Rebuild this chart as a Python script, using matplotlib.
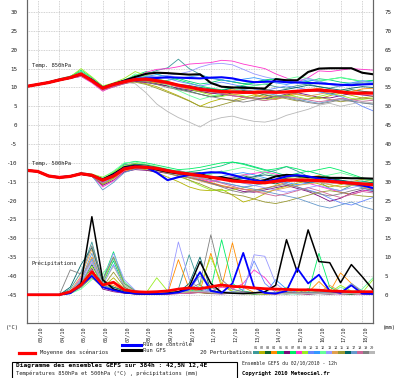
import matplotlib
matplotlib.use('Agg')
import matplotlib.pyplot as plt
from matplotlib.transforms import ScaledTranslation
from matplotlib.patches import Rectangle
from matplotlib.lines import Line2D

plt.rcParams['font.family'] = ['DejaVu Sans Mono']

# ---------------- data ----------------
hours = list(range(0, 385, 12))          # 02/10 12h -> 18/10 12h
day_ticks = list(range(12, 384, 24))     # 00h each day
day_labels = ['03/10', '04/10', '05/10', '06/10', '07/10', '08/10', '09/10', '10/10',
              '11/10', '12/10', '13/10', '14/10', '15/10', '16/10', '17/10', '18/10']
left_ticks = list(range(-45, 31, 5))
right_ticks = list(range(0, 76, 5))

pert_names = ['01', '02', '03', '04', '05', '06', '07', '08', '09', '10',
              '11', '12', '13', '14', '15', '16', '17', '18', '19', '20']
pert_colors = ['#3d9999', '#b3b300', '#0d6630', '#ff8c00', '#00cc77', '#7a0a7a', '#00ee66',
               '#ff33cc', '#99ee22', '#6688ff', '#3399ff', '#66ff99', '#9999ff', '#e0a050',
               '#999933', '#006666', '#6699cc', '#cc6699', '#808080', '#b8b8b8']

# Temperature 850 hPa (°C)
t850_mean = [10.3,10.8,11.3,12.0,12.6,13.6,11.8,9.8,10.8,11.5,12.1,12.2,11.8,11.3,10.6,10.1,9.5,
             9.2,8.9,8.8,8.7,8.7,8.8,8.7,8.8,9.0,9.2,9.3,9.1,8.8,8.5,8.5,8.5]
t850_ctrl = [10.3,10.8,11.3,12.0,12.6,13.5,12.0,9.9,10.8,11.6,12.2,12.4,12.5,12.7,12.6,12.5,12.4,
             12.6,12.7,12.4,11.8,11.4,11.5,11.6,11.4,11.3,11.2,11.1,10.9,10.7,10.6,10.8,10.9]
t850_gfs = [10.3,10.8,11.3,12.0,12.6,13.5,12.0,9.9,10.9,11.8,12.8,13.6,13.9,13.8,13.6,13.4,13.5,
            11.2,10.2,10.0,9.9,9.8,9.7,12.2,11.9,11.9,14.1,15.0,15.1,15.1,15.1,13.9,13.5]
t850_p01 = [10.3,10.9,11.4,12.2,12.8,13.8,12.3,10.2,11.0,11.8,12.3,13.5,14.5,15.2,17.5,15.0,13.5,12.4,12.0,11.5,11.0,10.6,10.9,10.2,9.8,10.5,10.9,10.2,9.8,10.4,10.9,11.2,11.0]
t850_p02 = [10.2,10.7,11.2,11.8,12.5,13.1,11.6,9.5,10.4,11.2,11.6,11.0,10.2,9.0,7.8,6.5,5.0,6.2,7.0,6.5,7.4,8.0,7.2,6.8,7.5,8.2,7.6,7.0,7.8,8.5,7.9,7.2,7.6]
t850_p03 = [10.4,10.8,11.3,12.1,12.7,13.5,12.1,10.0,10.8,11.3,11.8,11.5,11.0,10.4,9.6,9.0,8.2,7.5,7.8,8.6,9.2,8.8,8.0,7.4,7.9,8.8,9.5,9.0,8.3,8.8,9.4,9.0,8.7]
t850_p04 = [10.3,10.8,11.4,12.0,12.5,13.2,11.9,9.8,10.5,11.4,12.0,11.6,11.2,10.8,10.2,9.5,9.0,8.4,8.8,9.6,8.9,8.2,7.6,7.0,7.8,8.5,9.3,9.8,9.1,8.4,8.9,9.6,9.8]
t850_p05 = [10.3,10.9,11.5,12.3,13.0,14.2,12.4,10.1,10.8,11.5,12.2,11.8,11.6,11.9,12.4,11.6,10.9,11.3,12.0,11.5,11.0,11.4,12.0,12.4,11.8,11.2,11.6,12.3,12.0,11.4,11.1,11.5,11.8]
t850_p06 = [10.2,10.7,11.2,11.9,12.4,13.0,11.5,9.4,10.2,11.0,11.6,11.3,10.8,10.4,9.8,9.3,8.9,8.5,8.2,7.8,7.5,7.2,7.0,7.6,8.2,8.6,8.0,7.4,7.2,7.8,8.4,8.0,7.7]
t850_p07 = [10.3,10.8,11.3,12.1,12.9,14.6,12.6,10.3,11.0,12.0,13.2,14.2,13.5,12.8,12.0,11.2,10.4,9.8,9.4,9.9,10.6,11.2,11.8,12.3,12.0,11.5,11.0,11.6,12.2,12.6,12.1,11.6,11.9]
t850_p08 = [10.2,10.7,11.2,11.9,12.4,12.9,11.2,9.0,10.3,11.2,12.5,14.0,14.8,15.0,15.5,16.2,16.4,16.6,17.2,17.0,16.2,15.6,15.0,13.6,12.5,11.4,12.6,14.4,14.2,14.6,15.0,14.8,14.6]
t850_p09 = [10.3,10.8,11.4,12.2,12.8,15.0,12.8,10.4,11.2,12.4,14.2,13.2,12.4,11.6,10.6,9.6,8.8,8.0,7.6,8.2,7.8,7.0,6.6,7.4,8.0,7.5,6.9,7.6,8.3,7.9,7.1,6.8,7.2]
t850_p10 = [10.3,10.8,11.4,12.0,12.6,13.6,12.2,10.0,10.9,11.8,12.6,13.0,12.8,12.4,11.6,11.0,10.4,10.9,11.4,10.8,10.2,9.6,9.2,9.8,10.4,9.9,9.4,8.8,8.3,7.6,6.5,5.0,3.8]
t850_p11 = [10.4,10.9,11.5,12.2,12.8,13.7,12.3,10.1,11.0,11.9,12.4,12.9,13.4,13.0,12.5,12.8,13.2,12.6,12.0,11.6,12.2,12.6,12.0,11.2,10.8,11.4,12.0,11.6,11.0,10.7,11.2,11.8,11.4]
t850_p12 = [10.3,10.8,11.3,12.0,12.7,14.0,12.4,10.2,10.9,11.6,13.6,12.6,11.8,10.6,9.2,7.9,6.8,7.6,8.4,9.2,9.8,10.4,10.9,11.5,12.2,12.8,12.4,11.8,12.1,12.7,12.2,11.6,11.1]
t850_p13 = [10.3,10.8,11.3,12.0,12.6,13.3,11.8,9.6,10.5,11.3,12.0,12.4,12.8,13.2,13.6,14.2,15.4,16.2,16.4,16.0,14.8,13.6,12.8,12.2,11.4,11.8,12.4,11.6,10.8,10.2,11.0,11.6,11.2]
t850_p14 = [10.3,10.7,11.2,11.8,12.4,13.1,11.7,9.7,10.6,11.4,11.9,12.2,11.6,11.0,10.6,10.2,9.6,9.0,8.6,8.0,8.4,9.0,9.5,9.0,8.6,8.1,7.7,8.2,8.8,9.2,8.7,8.3,8.6]
t850_p15 = [10.2,10.7,11.2,11.9,12.5,13.4,12.0,9.8,10.5,11.2,11.4,10.8,9.8,8.7,7.6,6.4,5.0,4.6,5.4,6.2,6.8,7.5,8.1,7.6,7.0,6.4,6.9,7.4,6.8,6.2,6.6,7.2,6.9]
t850_p16 = [10.4,10.9,11.4,12.1,12.7,13.5,12.2,10.0,10.7,11.5,12.0,11.9,11.4,11.0,10.8,10.5,10.0,9.6,9.2,9.8,10.3,9.9,9.4,9.0,9.5,10.0,10.6,10.2,9.7,9.3,9.8,10.2,10.0]
t850_p17 = [10.3,10.8,11.4,12.1,12.6,13.4,12.1,9.9,10.7,11.6,12.3,12.6,12.2,11.5,10.8,10.0,9.2,8.8,8.4,9.0,9.5,9.0,8.5,8.0,7.5,6.9,6.3,5.8,6.4,7.0,6.5,5.9,5.5]
t850_p18 = [10.2,10.7,11.2,11.9,12.4,13.0,11.4,9.2,10.1,11.0,11.8,12.0,11.4,10.9,10.2,9.8,9.4,8.9,8.3,7.8,7.4,6.9,6.5,7.0,7.6,7.2,6.7,6.2,6.6,7.1,6.8,6.3,6.6]
t850_p19 = [10.3,10.8,11.3,12.0,12.6,13.3,11.9,9.9,10.7,11.5,12.0,11.5,10.8,10.0,9.4,8.8,8.2,7.6,7.0,6.6,6.1,6.6,7.2,7.8,7.3,6.6,6.0,5.6,6.1,6.7,6.3,5.9,5.6]
t850_p20 = [10.3,10.8,11.3,12.1,12.7,13.6,12.2,10.0,10.8,11.4,11.0,8.6,5.6,3.6,2.0,0.8,-0.5,1.2,2.0,2.4,1.6,1.0,0.8,1.4,2.6,3.4,4.2,5.3,5.8,5.0,5.6,6.2,5.9]

# Temperature 500 hPa (°C)
t500_mean = [-12.0,-12.3,-13.5,-13.9,-13.6,-12.9,-13.3,-14.6,-13.5,-11.6,-11.1,-11.2,-11.5,-12.1,-12.6,-13.0,-13.4,
             -13.8,-14.3,-14.8,-15.0,-15.2,-15.3,-14.9,-14.6,-14.6,-14.6,-14.7,-14.9,-15.2,-15.4,-15.6,-15.8]
t500_ctrl = [-12.0,-12.3,-13.5,-13.9,-13.6,-12.9,-13.3,-14.7,-13.3,-11.4,-11.0,-11.2,-12.6,-14.6,-13.8,-13.2,-12.8,
             -12.5,-12.6,-13.2,-14.0,-14.6,-15.0,-14.4,-13.6,-13.3,-13.6,-14.2,-14.6,-15.0,-15.4,-16.0,-16.7]
t500_gfs = [-12.0,-12.3,-13.5,-13.9,-13.6,-12.9,-13.3,-14.4,-13.0,-11.2,-10.8,-11.2,-11.8,-12.4,-12.8,-12.9,-12.8,
            -14.1,-13.8,-14.4,-14.8,-15.1,-14.6,-13.6,-13.2,-13.4,-13.8,-13.8,-14.0,-14.0,-14.1,-14.1,-14.2]
t500_p01 = [-12.0,-12.4,-13.4,-13.9,-13.4,-12.6,-13.0,-15.2,-13.0,-10.5,-10.2,-10.8,-11.6,-12.4,-12.0,-12.8,-13.6,-12.8,-12.2,-13.4,-14.2,-13.8,-12.6,-12.0,-11.0,-12.2,-13.6,-15.0,-16.8,-17.4,-16.0,-15.0,-14.6]
t500_p02 = [-12.0,-12.3,-13.6,-13.8,-13.6,-13.0,-13.6,-15.8,-14.2,-12.0,-11.4,-11.8,-12.6,-13.8,-15.0,-16.4,-17.2,-17.4,-17.0,-18.6,-20.4,-19.6,-18.2,-17.0,-16.2,-15.4,-14.8,-15.6,-16.4,-15.8,-15.0,-14.4,-14.8]
t500_p03 = [-12.1,-12.4,-13.5,-13.7,-13.4,-12.8,-13.1,-14.2,-13.0,-11.2,-10.6,-10.8,-11.2,-11.8,-12.4,-12.8,-13.2,-13.8,-14.4,-14.0,-13.4,-14.2,-15.0,-15.6,-14.8,-14.0,-13.6,-14.2,-14.8,-15.4,-15.8,-16.2,-16.0]
t500_p04 = [-12.0,-12.3,-13.4,-13.7,-13.5,-12.9,-13.3,-14.8,-13.8,-12.2,-11.6,-11.2,-11.6,-12.2,-13.0,-13.6,-14.4,-15.2,-16.0,-16.6,-17.0,-17.2,-16.8,-16.0,-15.2,-14.4,-13.8,-13.4,-14.0,-14.8,-15.6,-16.4,-17.0]
t500_p05 = [-12.0,-12.2,-13.4,-13.8,-13.6,-13.0,-13.2,-14.6,-13.4,-11.0,-10.4,-10.6,-11.2,-12.0,-12.6,-12.4,-12.0,-11.4,-10.8,-9.8,-10.2,-11.0,-11.8,-12.6,-13.4,-12.8,-12.2,-13.0,-13.8,-14.6,-15.2,-14.8,-15.4]
t500_p06 = [-12.0,-12.4,-13.6,-13.9,-13.6,-13.1,-13.6,-16.0,-14.6,-12.4,-11.8,-12.0,-12.4,-12.8,-13.4,-14.0,-14.6,-15.4,-16.2,-16.8,-17.6,-17.8,-17.2,-16.6,-16.0,-16.8,-17.6,-18.8,-20.2,-19.4,-18.0,-17.2,-17.6]
t500_p07 = [-12.0,-12.3,-13.5,-13.8,-13.5,-12.8,-13.2,-14.4,-12.6,-10.2,-9.6,-10.0,-10.6,-11.2,-11.8,-11.6,-11.2,-10.6,-10.0,-9.8,-10.4,-11.2,-12.0,-11.6,-11.0,-11.6,-12.4,-11.8,-11.2,-12.0,-13.0,-14.0,-14.6]
t500_p08 = [-12.0,-12.2,-13.3,-13.6,-13.4,-12.8,-13.4,-16.4,-14.8,-12.0,-11.2,-11.4,-11.8,-12.4,-12.8,-13.4,-14.2,-15.0,-14.4,-13.8,-13.2,-12.8,-12.4,-13.0,-13.8,-14.6,-15.4,-16.2,-17.0,-17.8,-18.4,-17.6,-16.8]
t500_p09 = [-12.0,-12.3,-13.5,-13.8,-13.5,-12.9,-13.0,-13.8,-12.4,-10.8,-10.2,-10.4,-11.0,-12.0,-13.2,-14.6,-16.0,-17.2,-17.4,-17.2,-16.6,-16.0,-15.4,-14.6,-14.0,-13.6,-14.2,-15.0,-15.8,-16.4,-16.0,-15.4,-15.0]
t500_p10 = [-12.0,-12.3,-13.4,-13.7,-13.5,-13.0,-13.5,-15.4,-13.8,-11.6,-11.0,-11.0,-11.4,-12.0,-12.6,-13.2,-13.8,-14.6,-15.2,-15.8,-16.4,-16.0,-15.4,-14.8,-15.6,-16.4,-17.2,-18.0,-19.4,-20.6,-21.2,-20.2,-19.2]
t500_p11 = [-12.0,-12.4,-13.5,-13.8,-13.6,-13.0,-13.4,-15.0,-13.6,-11.4,-10.8,-11.0,-11.6,-12.2,-12.8,-13.2,-13.6,-14.0,-13.6,-13.0,-12.6,-13.2,-14.0,-14.6,-15.2,-15.8,-15.4,-15.0,-14.6,-15.2,-15.8,-16.6,-17.4]
t500_p12 = [-12.0,-12.3,-13.4,-13.7,-13.4,-12.8,-13.1,-14.0,-12.2,-10.0,-9.8,-10.4,-11.0,-11.6,-12.2,-12.8,-13.4,-13.0,-12.4,-11.8,-11.2,-11.8,-12.6,-13.4,-14.2,-15.0,-14.4,-13.8,-13.2,-12.6,-13.4,-14.2,-14.8]
t500_p13 = [-12.0,-12.3,-13.5,-13.8,-13.5,-12.9,-13.3,-15.0,-13.4,-11.2,-10.6,-10.8,-11.4,-12.0,-12.6,-13.0,-13.4,-13.8,-14.2,-14.8,-15.4,-16.0,-16.6,-17.2,-17.8,-17.2,-16.6,-16.0,-16.8,-17.4,-16.6,-16.0,-16.4]
t500_p14 = [-12.0,-12.3,-13.5,-13.8,-13.5,-12.9,-13.2,-14.4,-13.2,-11.4,-10.8,-11.0,-11.6,-12.4,-13.2,-14.0,-14.8,-15.6,-16.2,-16.6,-17.0,-17.6,-17.8,-17.2,-16.6,-16.0,-15.6,-15.2,-15.8,-16.4,-16.0,-15.6,-16.0]
t500_p15 = [-12.0,-12.4,-13.6,-13.9,-13.6,-13.0,-13.5,-15.6,-14.0,-11.8,-11.2,-11.4,-12.0,-12.8,-13.6,-14.6,-15.6,-16.8,-17.8,-18.4,-18.8,-19.6,-20.4,-20.8,-20.2,-19.4,-18.6,-17.8,-17.4,-17.8,-18.4,-18.8,-19.0]
t500_p16 = [-12.0,-12.3,-13.5,-13.8,-13.5,-12.9,-13.3,-14.6,-13.2,-11.0,-10.4,-10.6,-11.2,-11.8,-12.4,-12.8,-13.2,-13.6,-14.0,-14.4,-14.0,-13.6,-13.2,-13.6,-14.2,-14.8,-15.2,-14.8,-14.2,-14.6,-15.0,-15.4,-15.2]
t500_p17 = [-12.0,-12.3,-13.4,-13.7,-13.4,-12.8,-13.4,-17.2,-15.2,-12.6,-11.6,-11.4,-11.6,-12.0,-12.8,-13.4,-14.0,-14.6,-15.2,-15.8,-16.4,-17.0,-17.6,-18.2,-18.8,-19.4,-20.4,-21.4,-22.0,-21.2,-20.4,-21.6,-22.4]
t500_p18 = [-12.0,-12.3,-13.5,-13.8,-13.5,-12.9,-13.3,-15.2,-13.6,-11.4,-10.8,-11.0,-11.6,-12.2,-12.8,-13.4,-14.0,-14.6,-15.4,-16.2,-17.0,-17.6,-18.2,-18.8,-18.2,-17.4,-16.6,-17.4,-18.4,-19.2,-18.4,-17.6,-18.0]
t500_p19 = [-12.0,-12.3,-13.5,-13.8,-13.5,-12.9,-13.2,-14.6,-13.4,-11.2,-10.6,-10.8,-11.4,-12.2,-13.0,-13.8,-14.6,-15.4,-16.4,-17.4,-18.0,-17.4,-16.8,-16.2,-15.6,-16.4,-17.4,-18.2,-18.8,-18.2,-17.4,-16.8,-17.2]
t500_p20 = [-12.0,-12.3,-13.5,-13.8,-13.5,-12.9,-13.3,-14.8,-13.6,-11.6,-11.2,-11.4,-12.0,-12.6,-13.2,-13.6,-14.0,-14.2,-14.0,-13.6,-13.2,-13.8,-14.4,-14.8,-14.4,-14.0,-14.6,-15.2,-15.6,-15.2,-14.8,-15.2,-15.6]

# Precipitation (mm)
pr_mean = [0,0,0,0,0.8,2.6,6.1,2.6,3.3,1.3,0.8,0.7,0.8,1.0,1.5,1.8,1.6,
           2.1,2.6,2.2,2.1,1.8,1.6,1.5,1.4,1.3,1.3,1.2,1.0,0.9,0.8,0.8,0.8]
pr_ctrl = [0,0,0,0,0.4,2.5,5.0,2.0,1.2,0.6,0.3,0.2,0.2,0.3,0.6,1.5,6.0,
           1.0,0.5,3.0,11.1,2.0,0.5,0.3,1.0,7.0,3.0,5.3,1.0,0.5,2.5,0.3,0.2]
pr_gfs = [0,0,0,0,0.5,3.0,20.7,4.0,1.5,0.6,0.3,0.2,0.2,0.4,0.8,2.0,8.8,
          3.0,0.6,0.4,0.3,0.5,0.8,2.5,14.6,6.0,17.2,8.8,8.5,3.2,8.0,4.8,1.3]
pr_p01 = [0,0,0,0,1.5,6.0,14.0,3.5,2.0,1.2,0.6,0.3,0.2,0.4,1.5,10.6,2.5,1.0,0.6,0.3,0.8,0.4,0.2,0.3,0.6,0.4,1.6,0.6,0.3,0.8,0.4,0.2,0.2]
pr_p02 = [0,0,0,0,0.8,2.5,5.0,2.0,4.5,1.5,0.5,0.2,0.1,0.2,0.4,1.0,0.6,0.3,2.5,0.8,0.3,0.2,0.1,0.4,0.9,0.3,0.2,0.5,1.2,0.4,0.2,0.3,0.1]
pr_p03 = [0,0,0,0,0.6,3.0,8.0,2.5,1.5,0.8,0.3,0.1,0.1,0.2,0.5,0.8,1.2,0.5,0.3,0.6,0.3,0.2,0.5,0.3,0.2,0.4,0.2,0.3,0.6,0.2,0.1,0.4,0.3]
pr_p04 = [0,0,0,0,0.5,4.0,10.0,3.0,2.5,1.0,0.4,0.2,0.1,0.3,9.3,1.5,1.0,11.0,2.0,13.8,2.0,0.6,0.3,0.2,0.4,1.5,0.6,3.5,0.8,5.8,3.0,0.6,0.4]
pr_p05 = [0,0,0,0,0.4,2.0,6.0,3.0,9.0,2.0,0.5,0.3,0.2,0.4,0.3,0.6,1.0,0.5,0.4,0.3,0.6,0.2,0.3,0.5,0.3,0.2,0.4,0.3,0.2,0.3,0.5,0.3,0.2]
pr_p06 = [0,0,0,0,0.7,3.5,7.0,1.5,0.8,0.4,0.2,0.1,0.1,0.2,0.3,0.4,0.6,0.3,0.2,0.4,0.8,0.5,0.3,0.2,0.4,0.3,0.2,0.3,0.2,0.4,0.3,0.2,0.2]
pr_p07 = [0,0,0,0,0.4,2.5,5.5,4.0,11.4,3.0,1.0,0.4,0.3,0.5,0.6,0.8,2.0,1.5,14.6,3.0,1.0,0.5,0.8,0.4,0.6,0.5,0.4,11.0,2.0,0.6,0.4,0.6,0.5]
pr_p08 = [0,0,0,0,0.6,4.5,9.0,2.0,1.0,0.5,0.3,0.2,0.1,0.2,0.3,0.5,0.8,1.0,2.0,1.5,3.0,6.6,4.5,1.0,0.5,0.3,0.2,0.4,0.3,0.2,0.3,0.2,0.2]
pr_p09 = [0,0,0,0,0.5,3.0,7.5,3.0,10.0,2.5,1.0,0.4,4.5,1.0,0.6,1.0,2.5,10.0,3.0,1.0,0.6,0.4,0.3,0.6,2.0,0.8,0.5,1.0,0.6,2.5,1.0,0.5,4.0]
pr_p10 = [0,0,0,0,0.3,2.0,5.0,2.5,8.0,2.0,0.6,0.3,0.2,0.3,0.5,0.8,1.0,0.6,0.5,0.8,1.5,9.0,3.0,0.6,0.4,0.3,0.5,0.4,0.3,0.5,0.4,0.3,0.3]
pr_p11 = [0,0,0,0,0.8,3.5,9.5,2.0,1.5,0.8,0.4,0.2,0.2,0.3,0.8,1.2,2.0,0.8,0.5,0.4,0.6,0.5,0.3,4.0,1.5,0.6,0.4,0.3,0.5,0.4,0.3,0.5,0.3]
pr_p12 = [0,0,0,0,0.3,1.5,4.0,5.5,9.5,3.5,1.0,0.5,0.3,0.4,0.6,1.0,0.8,0.5,0.4,0.5,0.3,0.4,0.6,0.4,0.3,0.5,0.8,0.6,0.4,2.0,0.8,1.5,4.5]
pr_p13 = [0,0,0,0,0.5,3.0,8.5,3.5,11.0,4.0,1.2,0.5,0.3,0.6,14.0,4.0,1.5,0.8,0.5,0.6,0.8,10.6,10.2,3.0,0.8,0.5,0.4,0.6,0.5,0.4,0.6,0.5,0.4]
pr_p14 = [0,0,0,0,1.0,5.0,12.0,3.0,1.5,0.8,0.4,0.2,0.2,0.3,0.4,0.6,6.0,2.0,0.8,0.5,0.4,0.3,0.5,0.4,0.6,0.5,0.4,0.6,2.5,0.8,0.4,0.3,0.3]
pr_p15 = [0,0,0,0,0.4,2.0,4.5,2.0,6.0,2.0,0.6,0.3,0.2,0.4,0.6,0.8,0.5,0.4,0.6,0.5,0.4,0.3,0.5,0.4,0.3,0.5,0.4,0.3,0.4,0.3,0.5,0.4,0.3]
pr_p16 = [0,0,0,0,2.0,8.0,12.5,3.5,2.0,1.0,0.4,0.2,0.2,0.3,0.6,3.0,10.0,1.2,0.6,0.4,0.5,0.4,0.3,0.5,0.4,0.6,0.5,0.4,0.3,0.5,0.4,0.3,0.3]
pr_p17 = [0,0,0,0,0.8,4.0,11.0,2.5,1.5,0.7,0.3,0.2,0.2,0.4,0.8,1.5,5.0,2.0,0.8,0.6,0.5,0.4,0.6,0.5,0.8,0.6,0.5,0.8,0.6,0.5,3.0,1.0,0.6]
pr_p18 = [0,0,0,0,0.5,2.5,6.5,2.0,1.0,0.5,0.3,0.2,0.1,0.2,0.3,0.4,0.6,0.5,0.4,0.3,0.5,0.4,0.3,0.4,0.3,0.5,0.4,0.3,0.2,0.3,0.4,0.3,0.2]
pr_p19 = [0,0,0,0,6.6,5.5,13.0,4.0,10.0,3.0,1.0,0.5,0.3,0.5,0.8,1.5,3.0,15.9,4.0,1.5,0.8,0.6,0.5,0.4,0.6,0.5,0.4,0.5,0.4,0.6,0.5,0.4,0.3]
pr_p20 = [0,0,0,0,0.6,4.0,9.0,3.0,7.5,2.5,0.8,0.4,0.2,0.3,0.5,0.8,1.0,0.6,0.4,0.5,0.4,0.3,0.5,0.4,0.3,0.4,0.3,0.4,0.3,0.4,0.3,0.3,0.2]

t850_perts = [t850_p01, t850_p02, t850_p03, t850_p04, t850_p05, t850_p06, t850_p07, t850_p08, t850_p09, t850_p10,
              t850_p11, t850_p12, t850_p13, t850_p14, t850_p15, t850_p16, t850_p17, t850_p18, t850_p19, t850_p20]
t500_perts = [t500_p01, t500_p02, t500_p03, t500_p04, t500_p05, t500_p06, t500_p07, t500_p08, t500_p09, t500_p10,
              t500_p11, t500_p12, t500_p13, t500_p14, t500_p15, t500_p16, t500_p17, t500_p18, t500_p19, t500_p20]
pr_perts = [pr_p01, pr_p02, pr_p03, pr_p04, pr_p05, pr_p06, pr_p07, pr_p08, pr_p09, pr_p10,
            pr_p11, pr_p12, pr_p13, pr_p14, pr_p15, pr_p16, pr_p17, pr_p18, pr_p19, pr_p20]

# ---------------- figure ----------------
W, H = 400, 378
fig = plt.figure(figsize=(W / 100, H / 100), dpi=100)
fig.patch.set_facecolor('white')

def fx(x):
    return x / W

def fy(y):
    return 1 - y / H

ax = fig.add_axes([fx(27), fy(323), fx(373) - fx(27), fy(0) - fy(323)])
ax2 = ax.twinx()

OFF = 45  # right axis (mm) = left axis (°C) + 45
ylo, yhi = -52.5, 33.2
ax.set_ylim(ylo, yhi)
ax2.set_ylim(ylo + OFF, yhi + OFF)
ax.set_xlim(0, 384)

# perturbations
for i in range(20):
    c = pert_colors[i]
    ax.plot(hours, t850_perts[i], color=c, lw=0.6, zorder=2)
    ax.plot(hours, t500_perts[i], color=c, lw=0.6, zorder=2)
    ax2.plot(hours, pr_perts[i], color=c, lw=0.6, zorder=2)

# GFS, control, mean
ax.plot(hours, t850_gfs, color='black', lw=1.5, zorder=3)
ax.plot(hours, t500_gfs, color='black', lw=1.5, zorder=3)
ax2.plot(hours, pr_gfs, color='black', lw=1.1, zorder=3)
ax.plot(hours, t850_ctrl, color='#0000ff', lw=1.5, zorder=4)
ax.plot(hours, t500_ctrl, color='#0000ff', lw=1.5, zorder=4)
ax2.plot(hours, pr_ctrl, color='#0000ff', lw=1.3, zorder=4)
ax.plot(hours, t850_mean, color='#ff0000', lw=2.3, zorder=5)
ax.plot(hours, t500_mean, color='#ff0000', lw=2.3, zorder=5)
ax2.plot(hours, pr_mean, color='#ff0000', lw=2.0, zorder=5)

# grid
ax.set_yticks(left_ticks)
ax.set_yticklabels([str(v) for v in left_ticks])
ax2.set_yticks(right_ticks)
ax2.set_yticklabels([str(v) for v in right_ticks])
ax.set_xticks(day_ticks)
ax.set_xticklabels(day_labels, rotation=90, va='top', ha='center')
ax.grid(True, color='#c4c4c4', lw=0.6, linestyle=(0, (1, 1)), zorder=0)
ax.set_axisbelow(True)

for a in (ax, ax2):
    a.tick_params(length=0, labelsize=4.2, colors='#222222')
    a.spines['top'].set_visible(False)
ax.tick_params(axis='y', pad=7)
ax2.tick_params(axis='y', pad=8.5)
ax.tick_params(axis='x', pad=2.2, labelsize=3.7)
for s in ('left', 'right', 'bottom'):
    ax.spines[s].set_color('#666666')
    ax2.spines[s].set_color('#666666')
    ax.spines[s].set_linewidth(0.8)
    ax2.spines[s].set_linewidth(0.8)

offset = ScaledTranslation(3 / 100, 0, fig.dpi_scale_trans)
for lab in ax.get_xticklabels():
    lab.set_transform(lab.get_transform() + offset)

# inner labels
ax.text(fx(32), fy(66), 'Temp. 850hPa', transform=fig.transFigure, fontsize=4.0,
        va='center', ha='left', color='#222222')
ax.text(fx(32), fy(164), 'Temp. 500hPa', transform=fig.transFigure, fontsize=4.0,
        va='center', ha='left', color='#222222')
ax.text(fx(32), fy(263), 'Précipitations', transform=fig.transFigure, fontsize=4.0,
        va='center', ha='left', color='#222222')

# units
fig.text(fx(12), fy(327), '(°C)', fontsize=4.0, ha='center', va='center', color='#222222')
fig.text(fx(389), fy(328), '(mm)', fontsize=4.0, ha='center', va='center', color='#222222')

# legend
fig.add_artist(Line2D([fx(122), fx(141)], [fy(344.5), fy(344.5)], color='#0000ff', lw=2.2))
fig.add_artist(Line2D([fx(122), fx(141)], [fy(350), fy(350)], color='black', lw=2.2))
fig.text(fx(143), fy(344.5), 'Run de contrôle', fontsize=4.0, ha='left', va='center', color='#222222')
fig.text(fx(143), fy(350), 'Run GFS', fontsize=4.0, ha='left', va='center', color='#222222')
fig.add_artist(Line2D([fx(19), fx(35)], [fy(352.5), fy(352.5)], color='#ff0000', lw=2.3))
fig.text(fx(40), fy(352.5), 'Moyenne des scénarios', fontsize=4.0, ha='left', va='center', color='#222222')
fig.text(fx(200), fy(352.5), '20 Perturbations', fontsize=4.0, ha='left', va='center', color='#222222')

sw_x0, sw_w = 253, 6.1
for i in range(20):
    x0 = sw_x0 + i * sw_w
    fig.add_artist(Rectangle((fx(x0), fy(354)), sw_w / W, 3.5 / H,
                             transform=fig.transFigure, facecolor=pert_colors[i],
                             edgecolor='none'))
    fig.text(fx(x0 + sw_w / 2), fy(347.8), pert_names[i], fontsize=2.6,
             ha='center', va='center', color='#333333')

# info box
fig.add_artist(Rectangle((fx(12), fy(382)), (237 - 12) / W, (382 - 361.5) / H,
                         transform=fig.transFigure, facecolor='white',
                         edgecolor='black', lw=0.8))
fig.text(fx(16), fy(365.5), 'Diagramme des ensembles GEFS sur 384h : 42,5N 12,4E',
         fontsize=4.5, fontweight='bold', ha='left', va='center', color='black')
fig.text(fx(16), fy(373.5), 'Températures 850hPa et 500hPa (°C) , précipitations (mm)',
         fontsize=3.9, ha='left', va='center', color='#222222')
fig.text(fx(242), fy(363), 'Ensemble GEFS du 02/10/2010 - 12h', fontsize=3.4,
         ha='left', va='center', color='#222222')
fig.text(fx(242), fy(374), 'Copyright 2010 Meteociel.fr', fontsize=4.0,
         fontweight='bold', ha='left', va='center', color='black')

fig.savefig('out.png', dpi=100, facecolor='white')
